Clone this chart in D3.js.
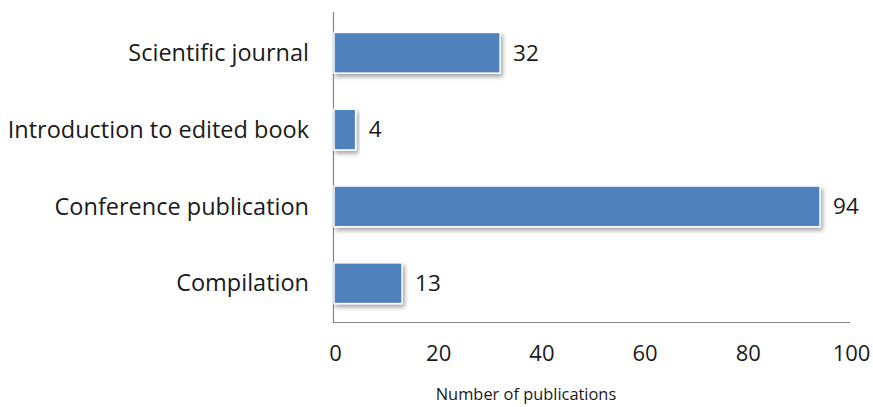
<!DOCTYPE html>
<html><head><meta charset="utf-8">
<script src="https://cdn.jsdelivr.net/npm/d3@7"></script>
<style>body{margin:0;background:#fff}svg{display:block}</style>
</head><body>
<svg id="c" width="873" height="407"></svg>
<script>
const categories = ["Scientific journal","Introduction to edited book","Conference publication","Compilation"];
const values = [32, 4, 94, 13];
const tickValues = [0, 20, 40, 60, 80, 100];
const axisTitle = "Number of publications";

const svg = d3.select("#c");
const font = "'Open Sans', sans-serif";
const x = d3.scaleLinear().domain([0,100]).range([335,851]);
const y = d3.scaleBand().domain(categories).range([14,322]).paddingInner(0.47).paddingOuter(0.24);

const defs = svg.append("defs");
const f = defs.append("filter").attr("id","sh").attr("x","-10%").attr("y","-30%").attr("width","130%").attr("height","180%");
f.append("feDropShadow").attr("dx",2).attr("dy",3).attr("stdDeviation",2).attr("flood-color","#000").attr("flood-opacity",0.35);

// axes lines
svg.append("line").attr("x1",333.5).attr("x2",333.5).attr("y1",12).attr("y2",322.5).attr("stroke","#868686").attr("stroke-width",1.2);
svg.append("line").attr("x1",333).attr("x2",850).attr("y1",322.5).attr("y2",322.5).attr("stroke","#868686").attr("stroke-width",1.2);

// bars
svg.selectAll("rect.bar").data(categories).join("rect").attr("class","bar")
  .attr("x", x(0)-1).attr("y", d=>y(d))
  .attr("width", (d,i)=>x(values[i])-x(0)+1).attr("height", y.bandwidth())
  .attr("fill","#4F81BD").attr("stroke","#fff").attr("stroke-width",1.5)
  .attr("filter","url(#sh)");

// value labels
svg.selectAll("text.val").data(categories).join("text").attr("class","val")
  .attr("x",(d,i)=>x(values[i])+13).attr("y",d=>y(d)+y.bandwidth()/2)
  .attr("dy","0.35em").attr("font-family",font).attr("font-size",22.5).attr("fill","#1a1a1a")
  .text((d,i)=>values[i]);

// category labels
const yAxis = d3.axisLeft(y).tickSize(0).tickPadding(0);
const gy = svg.append("g").attr("transform","translate(309,0)").call(yAxis);
gy.select(".domain").remove();
gy.selectAll("text").attr("font-family",font).attr("font-size",23.5).attr("fill","#1a1a1a").attr("dy","0.35em");

// x axis tick labels
const xAxis = d3.axisBottom(x).tickValues(tickValues).tickSize(0).tickPadding(0);
const gx = svg.append("g").attr("transform","translate(0,345)").call(xAxis);
gx.select(".domain").remove();
gx.selectAll("text").attr("font-family",font).attr("font-size",22).attr("fill","#1a1a1a");

svg.append("text").attr("x",526).attr("y",400).attr("text-anchor","middle")
  .attr("font-family",font).attr("font-size",16.4).attr("fill","#1a1a1a").text(axisTitle);
</script>
</body></html>
